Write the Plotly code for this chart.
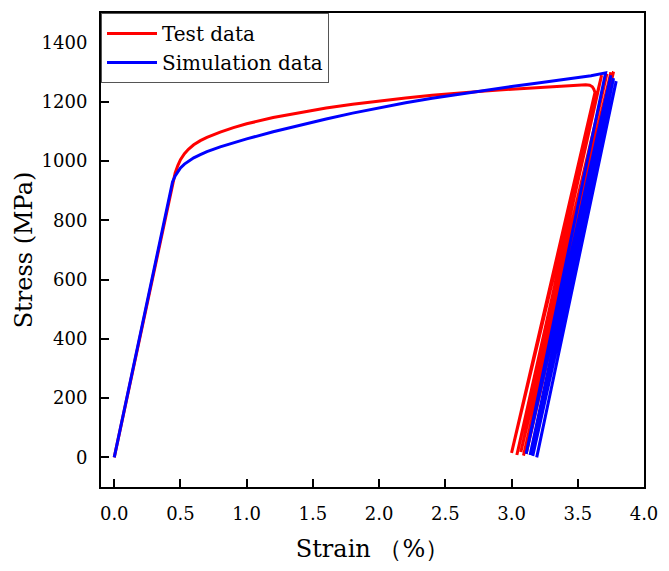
import plotly.graph_objects as go

# Test data (red): monotonic loading then unloading/reloading cycles
test_strain = [0, 0.1, 0.2, 0.3, 0.4, 0.44, 0.46, 0.48, 0.5, 0.53, 0.56, 0.6, 0.65, 0.7, 0.8, 0.9, 1.0, 1.2, 1.4,
               1.6, 1.8, 2.0, 2.2, 2.4, 2.6, 2.8, 3.0, 3.2, 3.4, 3.5, 3.56, 3.59, 3.61, 3.62, 3.63,
               3.00, 3.68, 3.04, 3.72, 3.07, 3.75, 3.09, 3.77, 3.11]
test_stress = [0, 211, 422, 634, 845, 930, 960, 985, 1005, 1025, 1040, 1055, 1069, 1080, 1098, 1113, 1126, 1147, 1164,
               1179, 1192, 1203, 1213, 1222, 1230, 1237, 1243, 1249, 1255, 1258, 1258, 1256, 1251, 1244, 1232,
               15, 1290, 8, 1295, 18, 1300, 6, 1302, 12]

# Simulation data (blue)
sim_strain = [0, 0.1, 0.2, 0.3, 0.4, 0.44, 0.46, 0.48, 0.5, 0.53, 0.56, 0.6, 0.65, 0.7, 0.8, 0.9, 1.0, 1.2, 1.4, 1.6,
              1.8, 2.0, 2.2, 2.4, 2.6, 2.8, 3.0, 3.2, 3.4, 3.6, 3.71,
              3.11, 3.75, 3.14, 3.77, 3.16, 3.79, 3.19]
sim_stress = [0, 211, 422, 634, 845, 930, 950, 965, 977, 990, 1000, 1011, 1022, 1032, 1048, 1062, 1075, 1099, 1121, 1142,
              1162, 1180, 1197, 1212, 1226, 1239, 1252, 1264, 1276, 1288, 1298,
              12, 1290, 8, 1280, 5, 1270, 0]

x_ticks = [0, 0.5, 1.0, 1.5, 2.0, 2.5, 3.0, 3.5, 4.0]
y_ticks = [0, 200, 400, 600, 800, 1000, 1200, 1400]

font_family = "DejaVu Serif"

fig = go.Figure()
fig.add_trace(go.Scatter(x=test_strain, y=test_stress, mode="lines", name="Test data",
                         line=dict(color="#FF0000", width=3)))
fig.add_trace(go.Scatter(x=sim_strain, y=sim_stress, mode="lines", name="Simulation data",
                         line=dict(color="#0000FF", width=3)))

fig.update_layout(
    width=669, height=571,
    margin=dict(l=101, r=25, t=11, b=84),
    paper_bgcolor="white", plot_bgcolor="white",
    font=dict(family=font_family, color="black", size=20),
    showlegend=True,
    legend=dict(x=0, y=1, xanchor="left", yanchor="top",
                bgcolor="white", bordercolor="#555555", borderwidth=1,
                font=dict(family=font_family, size=20, color="black"),
                itemwidth=50, tracegroupgap=0),
)
fig.update_xaxes(
    range=[-0.1, 4.0], tickvals=x_ticks, ticktext=[f"{v:.1f}" for v in x_ticks],
    showgrid=False, zeroline=False, showline=True, linecolor="black", linewidth=2,
    mirror=True, ticks="inside", ticklen=8, tickwidth=2, tickcolor="black",
    ticklabelstandoff=9,
    tickfont=dict(family=font_family, size=18),
    title=dict(text="Strain （%）", font=dict(family=font_family, size=24), standoff=18),
)
fig.update_yaxes(
    range=[-100, 1500], tickvals=y_ticks,
    showgrid=False, zeroline=False, showline=True, linecolor="black", linewidth=2,
    mirror=True, ticks="inside", ticklen=8, tickwidth=2, tickcolor="black",
    ticklabelstandoff=8,
    tickfont=dict(family=font_family, size=18),
    title=dict(text="Stress (MPa)", font=dict(family=font_family, size=24), standoff=2),
)

fig.write_html("out.html")
